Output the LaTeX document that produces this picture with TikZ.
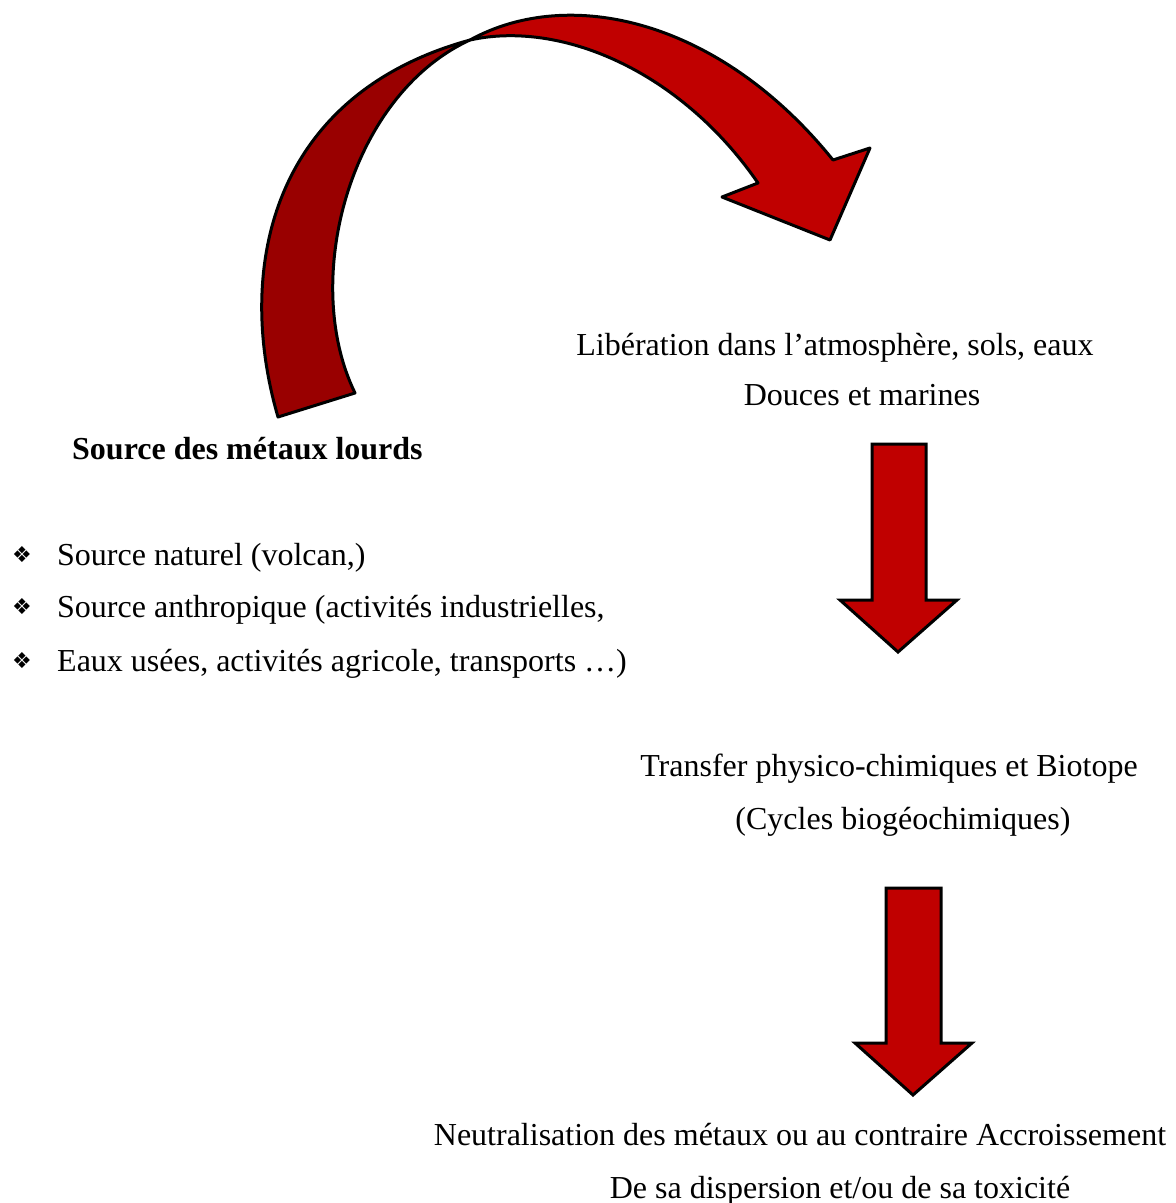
\documentclass[tikz,border=0pt]{standalone}
\usepackage{fontspec}
\setmainfont{Liberation Serif}
\newfontfamily\symfont{DejaVu Sans}
\definecolor{frontred}{HTML}{C00000}
\definecolor{backred}{HTML}{990000}
\tikzset{
  txt/.style={inner sep=0pt, anchor=base, font=\fontsize{32}{38}\selectfont},
  bul/.style={inner sep=0pt, anchor=center, font=\symfont\fontsize{22}{24}\selectfont},
  shapeline/.style={draw=black, line width=3pt, line join=round},
  blockarrow/.style={draw=black, line width=3pt, line join=miter, fill=frontred},
}
\begin{document}
\begin{tikzpicture}[x=1pt,y=-1pt]
\useasboundingbox (0,0) rectangle (1176,1203);
% curved arrow: back (dark) part
\filldraw[shapeline, fill=backred]
  (278,417) .. controls (235,270) and (270,95) .. (470,40)
  .. controls (350,95) and (300,280) .. (355,393)
  -- cycle;
% curved arrow: front part with head
\filldraw[shapeline, fill=frontred]
  (470,40) .. controls (570,-15) and (720,20) .. (833,160)
  -- (870,148) -- (830,240) -- (722,197) -- (758,183)
  .. controls (680,70) and (560,20) .. (470,40)
  -- cycle;
% straight arrows
\filldraw[blockarrow] (872,444) -- (926,444) -- (926,600) -- (957,600) -- (898,652) -- (840,600) -- (872,600) -- cycle;
\filldraw[blockarrow] (886,888) -- (941,888) -- (941,1043) -- (972,1043) -- (913,1095) -- (855,1043) -- (886,1043) -- cycle;
% texts
\node[txt] (lib1) at (835,355) {Libération dans l’atmosphère, sols, eaux};
\node[txt] (lib2) at (862,405) {Douces et marines};
\node[txt, anchor=base west, font=\fontsize{32}{38}\selectfont\bfseries] (src) at (72,459) {Source des métaux lourds};
\node[bul] (bu1) at (22,555) {❖};
\node[bul] (bu2) at (22,607) {❖};
\node[bul] (bu3) at (22,661) {❖};
\node[txt, anchor=base west] (s1) at (57,565) {Source naturel (volcan,)};
\node[txt, anchor=base west] (s2) at (57,617) {Source anthropique (activités industrielles,};
\node[txt, anchor=base west] (s3) at (57,671) {Eaux usées, activités agricole, transports …)};
\node[txt] (tr1) at (889,776) {Transfer physico-chimiques et Biotope};
\node[txt] (tr2) at (903,829) {(Cycles biogéochimiques)};
\node[txt] (ne1) at (800,1145) {Neutralisation des métaux ou au contraire Accroissement};
\node[txt] (ne2) at (840,1198) {De sa dispersion et/ou de sa toxicité};
\end{tikzpicture}
\end{document}
